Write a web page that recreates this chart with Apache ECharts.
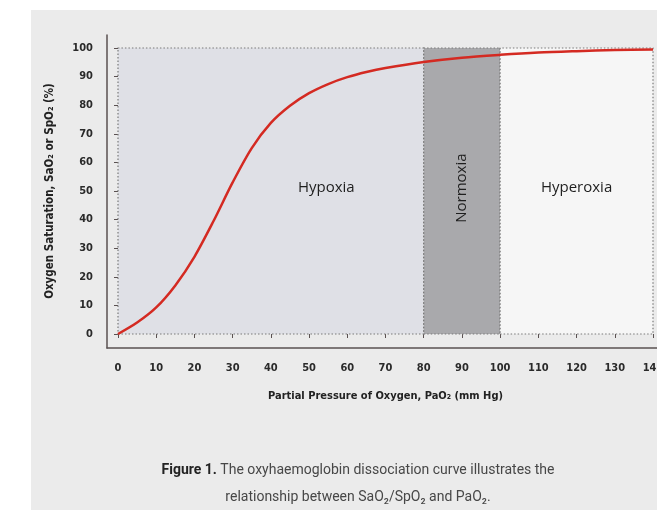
<!DOCTYPE html>
<html>
<head>
<meta charset="utf-8">
<script src="https://cdn.jsdelivr.net/npm/echarts@6/dist/echarts.min.js"></script>
<style>
html,body{margin:0;padding:0;background:#ffffff;}
#panel{position:absolute;left:31px;top:10px;width:626px;height:500px;background:#ebebeb;}
#chart{position:absolute;left:0;top:0;width:657px;height:510px;}
</style>
</head>
<body>
<div id="panel"></div>
<div id="chart"></div>
<script>
// Partial pressure of oxygen (mm Hg) and saturation (%)
const pao2 = [0, 5, 10, 15, 20, 25, 30, 35, 40, 45, 50, 55, 60, 65, 70, 80, 90, 100, 110, 120, 130, 140];
const sao2 = [0, 4, 9.3, 17, 27, 39.5, 53, 65, 73.8, 79.8, 84.2, 87.4, 89.8, 91.6, 93, 95.1, 96.6, 97.6, 98.4, 98.9, 99.3, 99.5];
// Regions (x ranges on PaO2)
const regionNames = ['Hypoxia', 'Normoxia', 'Hyperoxia'];
const regionFrom = [0, 80, 100];
const regionTo = [80, 100, 140];
// Region label anchors (data units)
const regionLabelX = [54.5, 90, 120];
const regionLabelY = [51, 51, 51];
const yTicks = [0, 10, 20, 30, 40, 50, 60, 70, 80, 90, 100];
const xTicks = [0, 10, 20, 30, 40, 50, 60, 70, 80, 90, 100, 110, 120, 130, 140];

const regionColors = ['#dfe0e6', '#a9a9ac', '#f6f6f6'];
const axisColor = '#5a5151';
const condensed = '"Liberation Sans Narrow", "DejaVu Sans Condensed", Roboto, sans-serif';

const chart = echarts.init(document.getElementById('chart'), null, {renderer: 'canvas'});

const curve = pao2.map((p, i) => [p, sao2[i]]);
const areas = regionNames.map((n, i) => [
  {xAxis: regionFrom[i], yAxis: 0, itemStyle: {color: regionColors[i], borderColor: '#7a7a7a', borderWidth: 1.2, borderType: [1.5, 2]}},
  {xAxis: regionTo[i], yAxis: 100}
]);
const labels = regionNames.map((n, i) => ({
  value: [regionLabelX[i], regionLabelY[i]],
  name: n,
  label: {rotate: i === 1 ? 90 : 0}
}));

chart.setOption({
  animation: false,
  title: {
    text: '{b|Figure 1.} The oxyhaemoglobin dissociation curve illustrates the\nrelationship between SaO₂/SpO₂ and PaO₂.',
    left: 353,
    top: 452,
    textAlign: 'center',
    textStyle: {
      fontFamily: 'Roboto, sans-serif',
      fontSize: 14,
      fontWeight: 'normal',
      color: '#474747',
      lineHeight: 27,
      rich: {b: {fontFamily: 'Roboto, sans-serif', fontSize: 14, fontWeight: 'bold', color: '#222222', lineHeight: 27}}
    }
  },
  grid: [
    {left: 107, right: 0, top: 35, bottom: 162, outerBoundsMode: 'none', containLabel: false},
    {left: 118, right: 4, top: 48, bottom: 176, outerBoundsMode: 'none', containLabel: false}
  ],
  xAxis: [
    {type: 'value', gridIndex: 0, min: 0, max: 1, axisLine: {show: true, lineStyle: {color: axisColor, width: 1.5}},
      axisTick: {show: false}, axisLabel: {show: false}, splitLine: {show: false}},
    {type: 'value', gridIndex: 1, min: 0, max: 140, interval: 10, offset: 13,
      axisLine: {show: false}, axisTick: {show: true, length: 4, lineStyle: {color: axisColor}},
      splitLine: {show: false},
      axisLabel: {margin: 16, fontFamily: condensed, fontWeight: 'bold', fontSize: 11, color: '#2a2a2a',
        formatter: v => xTicks.includes(v) ? String(v) : ''},
      name: 'Partial Pressure of Oxygen, PaO₂ (mm Hg)', nameLocation: 'middle', nameGap: 44,
      nameTextStyle: {fontFamily: condensed, fontWeight: 'bold', fontSize: 11, color: '#222222'}}
  ],
  yAxis: [
    {type: 'value', gridIndex: 0, min: 0, max: 1, axisLine: {show: true, lineStyle: {color: axisColor, width: 1.5}},
      axisTick: {show: false}, axisLabel: {show: false}, splitLine: {show: false}},
    {type: 'value', gridIndex: 1, min: 0, max: 100, interval: 10, offset: 11,
      axisLine: {show: false}, axisTick: {show: true, length: 4, lineStyle: {color: axisColor}},
      splitLine: {show: false},
      axisLabel: {margin: 14, fontFamily: condensed, fontWeight: 'bold', fontSize: 11, color: '#2a2a2a',
        formatter: v => yTicks.includes(v) ? String(v) : ''},
      name: 'Oxygen Saturation, SaO₂ or SpO₂ (%)', nameLocation: 'middle', nameGap: 51,
      nameTextStyle: {fontFamily: condensed, fontWeight: 'bold', fontSize: 11.5, color: '#222222'}}
  ],
  series: [
    {
      type: 'line', xAxisIndex: 1, yAxisIndex: 1, data: curve, smooth: 0.3, showSymbol: false,
      lineStyle: {color: '#d42a22', width: 2.5}, z: 5,
      markArea: {silent: true, data: areas, z: 1}
    },
    {
      type: 'scatter', xAxisIndex: 1, yAxisIndex: 1, data: labels, symbolSize: 0, z: 6, silent: true,
      itemStyle: {opacity: 1},
      label: {show: true, position: 'inside', formatter: p => p.name, opacity: 1,
        fontFamily: '"Open Sans", "Noto Sans", sans-serif', fontSize: 15, color: '#1f1f1f'}
    }
  ]
});
</script>
</body>
</html>
